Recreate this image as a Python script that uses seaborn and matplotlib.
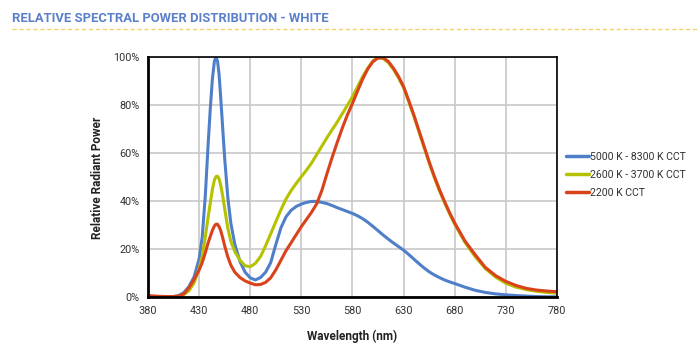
import numpy as np
import pandas as pd
import matplotlib
matplotlib.use('Agg')
import matplotlib.pyplot as plt
import seaborn as sns

# wavelength grid (nm) and readings (% of peak)
wavelength = [380, 390, 400, 405, 410, 415, 420, 425, 430, 433, 436, 439, 441, 443, 445, 446.5,
              448, 449.5, 451, 453, 455, 458, 461, 465, 470, 475, 480, 485, 490, 495, 500, 505,
              510, 515, 520, 525, 530, 535, 540, 545, 550, 555, 560, 565, 570, 575, 580, 585,
              590, 595, 600, 605, 610, 615, 620, 625, 630, 635, 640, 645, 650, 655, 660, 665,
              670, 675, 680, 690, 700, 710, 720, 730, 740, 750, 760, 770, 780]

cool_white = [0.5, 0.3, 0.3, 0.4, 0.8, 2.0, 4.5, 8.5, 16.0, 25.0, 42.0, 65.0, 79.0, 91.0, 98.5, 100.0,
              98.5, 93.0, 84.0, 71.0, 58.0, 42.0, 31.0, 22.0, 15.0, 10.5, 8.2, 7.3, 8.3, 10.5, 14.5, 22.0,
              29.0, 33.6, 36.3, 37.9, 38.9, 39.6, 40.0, 40.0, 39.6, 39.1, 38.3, 37.4, 36.6, 35.8, 35.0, 34.0,
              32.8, 31.3, 29.6, 27.8, 26.0, 24.3, 22.7, 21.2, 19.7, 17.9, 16.0, 14.1, 12.3, 10.7, 9.4, 8.3,
              7.3, 6.5, 5.8, 4.3, 3.0, 2.1, 1.5, 1.1, 0.8, 0.6, 0.4, 0.3, 0.3]

warm_white = [0.5, 0.3, 0.3, 0.3, 0.5, 1.2, 2.8, 6.0, 12.0, 17.0, 25.0, 34.0, 39.5, 45.0, 49.0, 50.3,
              50.5, 49.5, 47.0, 42.5, 37.0, 29.0, 23.5, 19.0, 15.5, 13.2, 12.8, 14.2, 17.0, 21.5, 26.5, 31.5,
              36.5, 41.0, 44.5, 47.5, 50.3, 53.0, 56.0, 59.5, 63.0, 66.5, 69.8, 73.0, 76.5, 80.0, 83.6, 87.8,
              92.0, 95.5, 98.5, 99.8, 99.5, 97.8, 95.0, 91.5, 87.3, 81.5, 75.5, 69.0, 62.5, 56.0, 50.0, 44.5,
              39.5, 34.8, 30.5, 23.0, 17.0, 12.0, 8.5, 5.9, 4.3, 3.3, 2.6, 2.1, 1.8]

amber_white = [0.8, 0.5, 0.4, 0.4, 0.6, 1.5, 4.0, 7.5, 11.4, 14.5, 18.5, 23.0, 25.5, 28.0, 29.8, 30.5,
               30.5, 29.5, 28.0, 25.0, 21.5, 17.0, 13.5, 10.5, 8.3, 6.9, 6.0, 5.3, 5.4, 6.3, 8.2, 11.5,
               15.5, 19.5, 22.8, 26.2, 29.5, 32.5, 35.5, 39.0, 44.5, 51.5, 58.2, 64.5, 70.5, 76.0, 80.8, 86.0,
               91.0, 95.2, 98.2, 99.7, 99.8, 98.3, 95.5, 92.0, 87.8, 82.0, 76.0, 69.5, 63.0, 56.5, 50.5, 45.0,
               40.0, 35.3, 31.0, 23.5, 17.8, 12.5, 9.1, 6.7, 5.0, 3.8, 3.1, 2.7, 2.4]

series = ['5000 K - 8300 K CCT', '2600 K - 3700 K CCT', '2200 K CCT']
colors = ['#4f7fc9', '#b5c200', '#d9421b']
xticks = [380, 430, 480, 530, 580, 630, 680, 730, 780]
yticks = [0, 20, 40, 60, 80, 100]

n = len(wavelength)
df = pd.DataFrame({
    'wl': wavelength * 3,
    'power': cool_white + warm_white + amber_white,
    'series': [series[0]] * n + [series[1]] * n + [series[2]] * n,
})

sns.set_style('white')
plt.rcParams['font.family'] = ['Roboto', 'DejaVu Sans']

fig = plt.figure(figsize=(7, 3.64), dpi=100)
ax = fig.add_axes([0.2114, 0.1827, 0.5843, 0.6599])

sns.lineplot(data=df, x='wl', y='power', hue='series', hue_order=series,
             palette=colors, linewidth=2.2, ax=ax, legend=False)

ax.set_xlim(380, 780)
ax.set_ylim(0, 100)
ax.set_xticks(xticks)
ax.set_yticks(yticks)
ax.set_yticklabels([f'{v}%' for v in yticks])
ax.tick_params(axis='both', labelsize=7.8, colors='#333333', length=0, pad=6)
ax.grid(True, color='#c8c8c8', linewidth=1.2)
ax.set_axisbelow(True)
for side in ['left', 'bottom']:
    ax.spines[side].set_linewidth(2.0)
    ax.spines[side].set_color('black')
for side in ['top', 'right']:
    ax.spines[side].set_linewidth(1.2)
    ax.spines[side].set_color('black')

ax.set_xlabel('Wavelength (nm)', fontsize=8.5, fontweight='bold', color='#222222', labelpad=10)
ax.set_ylabel('Relative Radiant Power', fontsize=8.5, fontweight='bold', color='#222222', labelpad=7)

handles = [plt.Line2D([], [], color=c, linewidth=2.5) for c in colors]
fig.legend(handles, series, loc='center left', bbox_to_anchor=(0.795, 0.519), frameon=False,
           fontsize=7.6, handlelength=2.2, handletextpad=0.1, labelspacing=0.75, labelcolor='#333333')

fig.text(12 / 700, 1 - 18 / 364, 'RELATIVE SPECTRAL POWER DISTRIBUTION - WHITE', fontsize=9.4,
         fontweight='bold', color='#5b7fc9', va='center', ha='left')
fig.add_artist(plt.Line2D([12 / 700, 1.0], [1 - 29 / 364, 1 - 29 / 364], transform=fig.transFigure,
                          color='#f2d36b', linewidth=1.0, linestyle=(0, (3, 2))))

fig.savefig('out.png', dpi=100)
